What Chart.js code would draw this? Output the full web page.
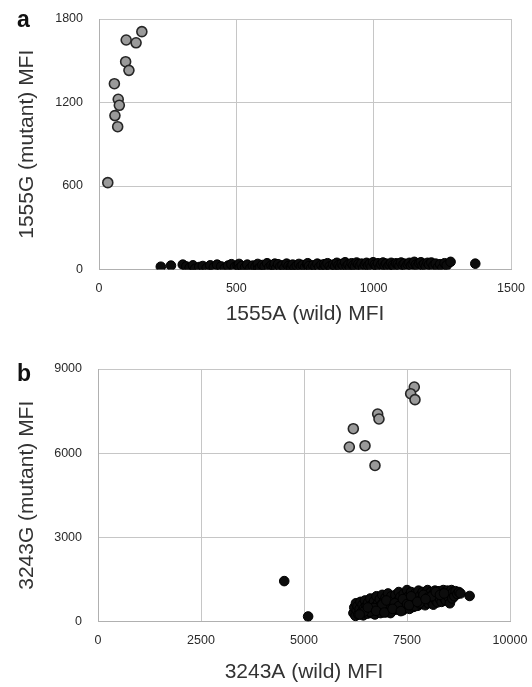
<!DOCTYPE html>
<html>
<head>
<meta charset="utf-8">
<script src="https://cdn.jsdelivr.net/npm/chart.js@4.4.1/dist/chart.umd.min.js"></script>
<style>
  html, body { margin: 0; padding: 0; background: #fff; }
  body { width: 532px; height: 687px; position: relative; overflow: hidden; font-family: "Liberation Sans", Arial, sans-serif; }
  .panel { position: absolute; left: 0; }
  .lbl { position: absolute; font-weight: bold; font-size: 23px; color: #111; line-height: 1; }
</style>
</head>
<body>
<div class="panel" style="top:0"><canvas id="chartA" width="532" height="340"></canvas></div>
<div class="panel" style="top:340px"><canvas id="chartB" width="532" height="347"></canvas></div>
<div class="lbl" style="left:17px;top:8px">a</div>
<div class="lbl" style="left:17px;top:362px">b</div>
<script>
// painel a: 1555A / 1555G
const a_xTicks = [0, 500, 1000, 1500];
const a_yTicks = [0, 600, 1200, 1800];
const a_mutX = [32, 56, 70, 74, 58, 68, 97, 109, 99, 135, 156];
const a_mutY = [624, 1335, 1223, 1180, 1106, 1026, 1493, 1431, 1649, 1629, 1709];
const a_wildX = [225, 262, 305, 318, 330, 342, 350, 365, 378, 392, 405, 418, 430, 445, 458, 470, 482, 495, 505, 510, 512, 520, 532, 540, 551, 560, 570, 578, 580, 586, 595, 603, 612, 620, 628, 636, 640, 645, 652, 660, 668, 675, 683, 690, 698, 700, 705, 712, 720, 728, 735, 742, 750, 758, 760, 765, 772, 780, 788, 795, 802, 810, 818, 820, 825, 832, 840, 846, 853, 860, 866, 872, 878, 884, 890, 896, 902, 908, 914, 920, 926, 932, 938, 944, 950, 956, 962, 968, 974, 980, 986, 992, 998, 1004, 1010, 1016, 1022, 1028, 1034, 1040, 1046, 1052, 1058, 1064, 1070, 1076, 1082, 1088, 1094, 1100, 1106, 1112, 1118, 1124, 1130, 1136, 1142, 1148, 1154, 1160, 1166, 1172, 1178, 1184, 1190, 1196, 1202, 1210, 1218, 1226, 1234, 1242, 1250, 1258, 1266, 1280, 1370];
const a_wildY = [20, 28, 35, 22, 12, 30, 5, 18, 25, 10, 30, 15, 35, 22, 8, 28, 38, 18, 30, 40, 10, 25, 15, 35, 8, 28, 20, 40, 5, 12, 32, 22, 45, 15, 30, 25, 42, 8, 38, 20, 30, 12, 42, 25, 18, 5, 35, 10, 28, 40, 20, 32, 15, 38, 45, 25, 8, 30, 20, 42, 18, 33, 10, 38, 28, 45, 22, 5, 35, 25, 48, 30, 18, 40, 28, 52, 22, 35, 15, 45, 30, 20, 50, 38, 25, 42, 12, 35, 48, 28, 40, 20, 52, 35, 25, 45, 15, 38, 50, 28, 42, 20, 35, 48, 30, 22, 45, 38, 25, 50, 32, 42, 20, 38, 48, 28, 40, 55, 35, 25, 45, 52, 30, 40, 22, 48, 35, 50, 28, 42, 15, 38, 10, 45, 30, 55, 42];

// painel b: 3243A / 3243G
const b_xTicks = [0, 2500, 5000, 7500, 10000];
const b_yTicks = [0, 3000, 6000, 9000];
const b_mutX = [7677, 7589, 7694, 6788, 6820, 6197, 6100, 6481, 6723];
const b_mutY = [8359, 8120, 7907, 7396, 7218, 6872, 6220, 6266, 5563];
const b_wildX = [4520, 5100, 6200, 6220, 6250, 6260, 6280, 6300, 6320, 6350, 6370, 6390, 6420, 6440, 6460, 6480, 6500, 6520, 6540, 6560, 6590, 6610, 6630, 6650, 6670, 6700, 6720, 6740, 6760, 6780, 6800, 6820, 6840, 6860, 6880, 6900, 6920, 6940, 6960, 6980, 7000, 7020, 7040, 7060, 7080, 7100, 7120, 7140, 7160, 7180, 7200, 7220, 7240, 7260, 7280, 7300, 7320, 7340, 7360, 7380, 7400, 7420, 7440, 7460, 7480, 7500, 7520, 7540, 7560, 7580, 7600, 7620, 7640, 7660, 7680, 7700, 7720, 7740, 7760, 7780, 7800, 7820, 7840, 7860, 7880, 7900, 7920, 7940, 7960, 7980, 8000, 8020, 8040, 8060, 8080, 8100, 8120, 8140, 8160, 8180, 8200, 8220, 8240, 8260, 8280, 8300, 8320, 8340, 8360, 8380, 8400, 8420, 8440, 8460, 8480, 8500, 8520, 8540, 8560, 8580, 8600, 8620, 8650, 8680, 8720, 8760, 8800, 9020, 6600, 6700, 6900, 7000, 7100, 7200, 7300, 7400, 7500, 7600, 7700, 7800, 7900, 8000, 8100, 8200, 8300, 8400, 6450, 6350, 6550, 6750, 6950, 7150, 7350, 7550, 7750, 7950];
const b_wildY = [1440, 180, 300, 500, 200, 650, 400, 550, 250, 450, 700, 320, 600, 220, 480, 750, 380, 560, 280, 680, 450, 820, 300, 600, 420, 720, 250, 550, 900, 380, 650, 480, 800, 300, 600, 950, 420, 700, 520, 850, 330, 620, 1000, 450, 750, 550, 900, 380, 680, 500, 820, 950, 420, 620, 750, 1050, 480, 880, 600, 720, 400, 980, 650, 820, 520, 1120, 700, 900, 450, 780, 1050, 600, 880, 520, 720, 1000, 650, 850, 560, 1100, 750, 920, 620, 800, 1050, 700, 880, 580, 1000, 780, 1120, 650, 900, 820, 1050, 700, 950, 600, 850, 1100, 750, 980, 680, 900, 1080, 800, 1000, 700, 920, 1120, 850, 1050, 750, 950, 1100, 880, 1020, 650, 950, 1120, 820, 1050, 900, 1080, 980, 1050, 1000, 910, 350, 480, 600, 750, 300, 650, 550, 800, 620, 900, 550, 650, 950, 850, 900, 1050, 950, 1000, 350, 250, 500, 380, 320, 450, 370, 580, 700, 800];

const fonteTick = { family: "'Liberation Sans', Arial, sans-serif", size: 12.5 };
const fonteTitulo = { family: "'Liberation Sans', Arial, sans-serif", size: 21 };
const corGrade = '#c6c6c6';

function pontos(xs, ys) { return xs.map((x, i) => ({ x: x, y: ys[i] })); }

function criarGrafico(id, cfg) {
    const ctx = document.getElementById(id).getContext('2d');
    return new Chart(ctx, {
        type: 'scatter',
        data: {
            datasets: [
                { data: pontos(cfg.wildX, cfg.wildY), backgroundColor: '#0c0c0c', borderColor: '#000', borderWidth: 1, pointRadius: 4.8 },
                { data: pontos(cfg.mutX, cfg.mutY), backgroundColor: '#9a9a9a', borderColor: '#262626', borderWidth: 1.6, pointRadius: 5 }
            ]
        },
        options: {
            responsive: false, animation: false, devicePixelRatio: 1,
            layout: { padding: cfg.pad, autoPadding: false },
            plugins: { legend: { display: false }, tooltip: { enabled: false } },
            scales: {
                x: {
                    type: 'linear', min: cfg.xTicks[0], max: cfg.xTicks[cfg.xTicks.length - 1],
                    afterBuildTicks: s => { s.ticks = cfg.xTicks.map(v => ({ value: v })); },
                    // a area do grafico fica so com o padding do layout
                    afterFit: s => { s.height = cfg.xH; s.paddingLeft = 0; s.paddingRight = 0; },
                    grid: { color: corGrade, drawTicks: false },
                    border: { color: '#b0b0b0' },
                    ticks: { font: fonteTick, color: '#2a2a2a', padding: 12, maxRotation: 0, callback: v => String(v) },
                    title: { display: true, text: cfg.xTitulo, font: fonteTitulo, color: '#333', padding: 0 }
                },
                y: {
                    type: 'linear', min: cfg.yTicks[0], max: cfg.yTicks[cfg.yTicks.length - 1],
                    afterBuildTicks: s => { s.ticks = cfg.yTicks.map(v => ({ value: v })); },
                    afterFit: s => { s.width = cfg.yW; s.paddingTop = 0; s.paddingBottom = 0; },
                    grid: { color: corGrade, drawTicks: false },
                    border: { color: '#b0b0b0' },
                    ticks: { font: fonteTick, color: '#2a2a2a', padding: 16, callback: v => String(v) },
                    title: { display: true, text: cfg.yTitulo, font: fonteTitulo, color: '#333', padding: { top: 15, bottom: 0 } }
                }
            }
        }
    });
}

criarGrafico('chartA', {
    wildX: a_wildX, wildY: a_wildY, mutX: a_mutX, mutY: a_mutY,
    xTicks: a_xTicks, yTicks: a_yTicks,
    xTitulo: '1555A (wild) MFI', yTitulo: '1555G (mutant) MFI',
    pad: { top: 19, right: 21, left: 0, bottom: 13.5 }, xH: 57, yW: 99
});

criarGrafico('chartB', {
    wildX: b_wildX, wildY: b_wildY, mutX: b_mutX, mutY: b_mutY,
    xTicks: b_xTicks, yTicks: b_yTicks,
    xTitulo: '3243A (wild) MFI', yTitulo: '3243G (mutant) MFI',
    pad: { top: 29, right: 22, left: 0, bottom: 2.5 }, xH: 63, yW: 98
});
</script>
</body>
</html>
